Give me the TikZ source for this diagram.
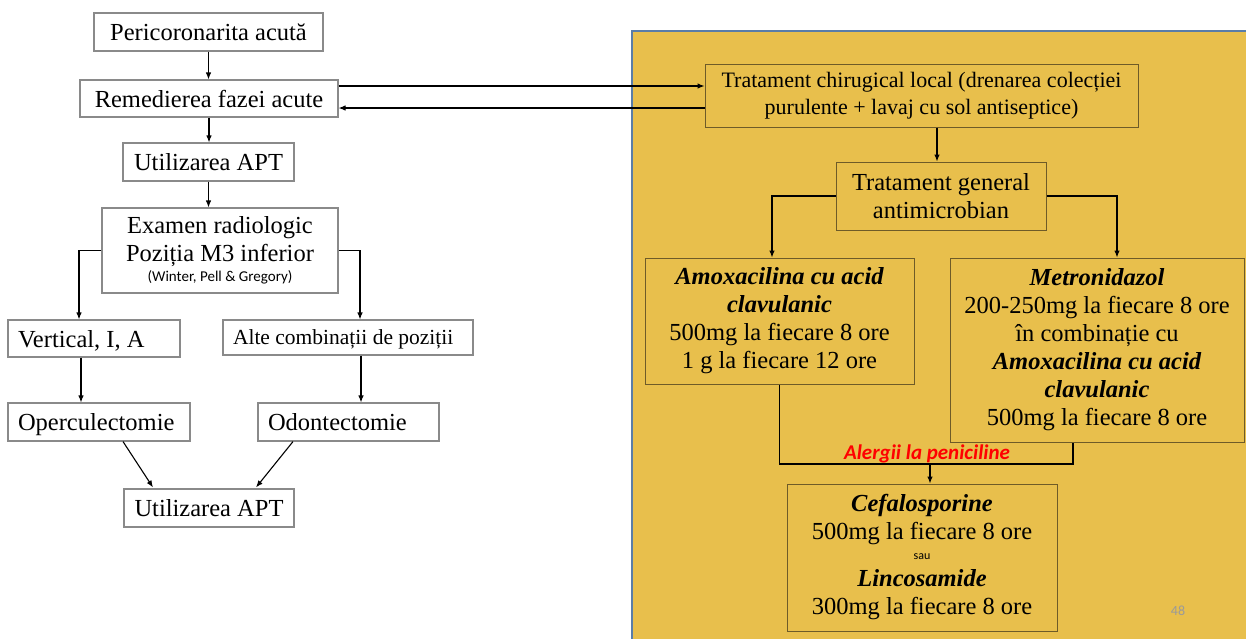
\documentclass[tikz,border=0pt]{standalone}
\usepackage{fontspec}
\setmainfont{Liberation Serif}
\newfontfamily\calfont{Carlito}
\usetikzlibrary{arrows.meta,calc}
\definecolor{panelfill}{HTML}{E8BF4C}
\definecolor{panelline}{HTML}{5A7DA8}
\definecolor{boxgray}{HTML}{8A8A8A}
\definecolor{boxbrown}{HTML}{6E5B28}
\definecolor{pagegray}{HTML}{9A9A9A}
\begin{document}
\begin{tikzpicture}[x=1pt,y=-1pt,
  lbox/.style={draw=boxgray, line width=1.1pt, fill=white, inner sep=0pt, align=center,
    font=\fontsize{24.5}{28}\selectfont},
  oneline/.style={text height=18pt, text depth=1pt},
  lboxl/.style={lbox, oneline, inner xsep=10pt},
  rbox/.style={draw=boxbrown, line width=1pt, inner sep=0pt, align=center,
    font=\fontsize{24.5}{28}\selectfont},
  arr/.style={-{Latex[length=7pt,width=5.5pt]}, line width=1.1pt},
  ln/.style={line width=1.1pt}
]
\useasboundingbox (0,0) rectangle (1246,638);
\fill[white] (0,0) rectangle (1246,638);
% right panel
\fill[panelfill] (632,31) rectangle (1252,644);
\draw[panelline, line width=1.6pt] (632,644) -- (632,31) -- (1252,31);

% left column
\node[lbox, oneline, minimum width=229pt, minimum height=38pt] (p1) at (208.5,32) {Pericoronarita acută};
\node[lbox, oneline, minimum width=258pt, minimum height=37pt] (p2) at (209,98.5) {Remedierea fazei acute};
\node[lbox, oneline, minimum width=171pt, minimum height=38pt] (p3) at (208.5,162) {Utilizarea APT};
\node[lbox, minimum width=236pt, minimum height=85pt] (p4) at (220,250.5)
  {Examen radiologic\\Poziția M3 inferior\\[-8pt]{\calfont\fontsize{15}{17}\selectfont (Winter, Pell \& Gregory)}};
\node[lboxl, minimum height=37pt] (p5) at (94,338.5) {\makebox[152pt][l]{Vertical, I, A}};
\node[lboxl, minimum height=35pt, text height=16pt, text depth=2pt, font=\fontsize{21.5}{25}\selectfont] (p6) at (348,337.5) {\makebox[230pt][l]{Alte combinații de poziții}};
\node[lboxl, minimum height=38pt] (p7) at (99,422) {\makebox[162pt][l]{Operculectomie}};
\node[lboxl, minimum height=38pt] (p8) at (348.5,422) {\makebox[161pt][l]{Odontectomie}};
\node[lbox, oneline, minimum width=170pt, minimum height=38pt] (p9) at (209,508) {Utilizarea APT};

\draw[arr] (p1.south) -- (p1.south |- p2.north);
\draw[arr] (p2.south) -- (p2.south |- p3.north);
\draw[arr] (p3.south) -- (p3.south |- p4.north);
\draw[arr] (p4.west) -| ([xshift=-15pt]p5.north);
\draw[arr] (p4.east) -| ([xshift=12pt]p6.north);
\draw[arr] ([xshift=-13pt]p5.south) -- ([xshift=-13pt]p5.south |- p7.north);
\draw[arr] ([xshift=13pt]p6.south) -- ([xshift=13pt]p6.south |- p8.north);
\draw[arr] ([xshift=24pt]p7.south) -- ([xshift=-56pt,yshift=1pt]p9.north);
\draw[arr] ([xshift=-55.5pt]p8.south) -- ([xshift=47pt,yshift=1pt]p9.north);

% right column
\node[rbox, minimum width=433pt, minimum height=63pt, font=\fontsize{22}{27}\selectfont] (r1) at (921.5,95.5)
  {Tratament chirugical local (drenarea colecției\\purulente + lavaj cu sol antiseptice)};
\node[rbox, minimum width=210pt, minimum height=68pt] (r2) at (941,196)
  {Tratament general\\antimicrobian};
\node[rbox, minimum width=269pt, minimum height=126pt] (r3) at (779.5,321)
  {\bfseries\itshape Amoxacilina cu acid\\\bfseries\itshape clavulanic\\500mg la fiecare 8 ore\\1 g la fiecare 12 ore};
\node[rbox, minimum width=294pt, minimum height=184pt] (r4) at (1097,350)
  {\bfseries\itshape Metronidazol\\200-250mg la fiecare 8 ore\\în combinație cu\\\bfseries\itshape Amoxacilina cu acid\\\bfseries\itshape clavulanic\\500mg la fiecare 8 ore};
\node[rbox, minimum width=270pt, minimum height=147pt] (r5) at (922,557.5)
  {\bfseries\itshape Cefalosporine\\500mg la fiecare 8 ore\\[-8pt]{\calfont\fontsize{12}{14}\selectfont sau}\\[-1pt]\bfseries\itshape Lincosamide\\300mg la fiecare 8 ore};

\draw[arr] ([yshift=12.5pt]p2.east) -- ([yshift=12.5pt]p2.east -| r1.west);
\draw[arr] ([yshift=-12.5pt]r1.west) -- ([yshift=-12.5pt]r1.west -| p2.east);
\draw[arr] ([xshift=-4pt]r2.north |- r1.south) -- ([xshift=-4pt]r2.north);
\draw[arr] (r2.west) -| ([xshift=-7.5pt]r3.north);
\draw[arr] (r2.east) -| ([xshift=20pt]r4.north);
\coordinate (j) at (930,464);
\draw[ln] (r3.south) -- (r3.south |- j) -- ([xshift=-24pt]r4.south |- j) -- ([xshift=-24pt]r4.south);
\draw[arr] (j) -- (j |- r5.north);
\node[text=red, font=\calfont\bfseries\itshape\fontsize{21}{24}\selectfont, inner sep=0pt] (al) at (927,454) {Alergii la peniciline};
\node[text=pagegray, font=\calfont\fontsize{14}{16}\selectfont, inner sep=0pt] (pg) at (1178,611) {48};
\end{tikzpicture}
\end{document}
